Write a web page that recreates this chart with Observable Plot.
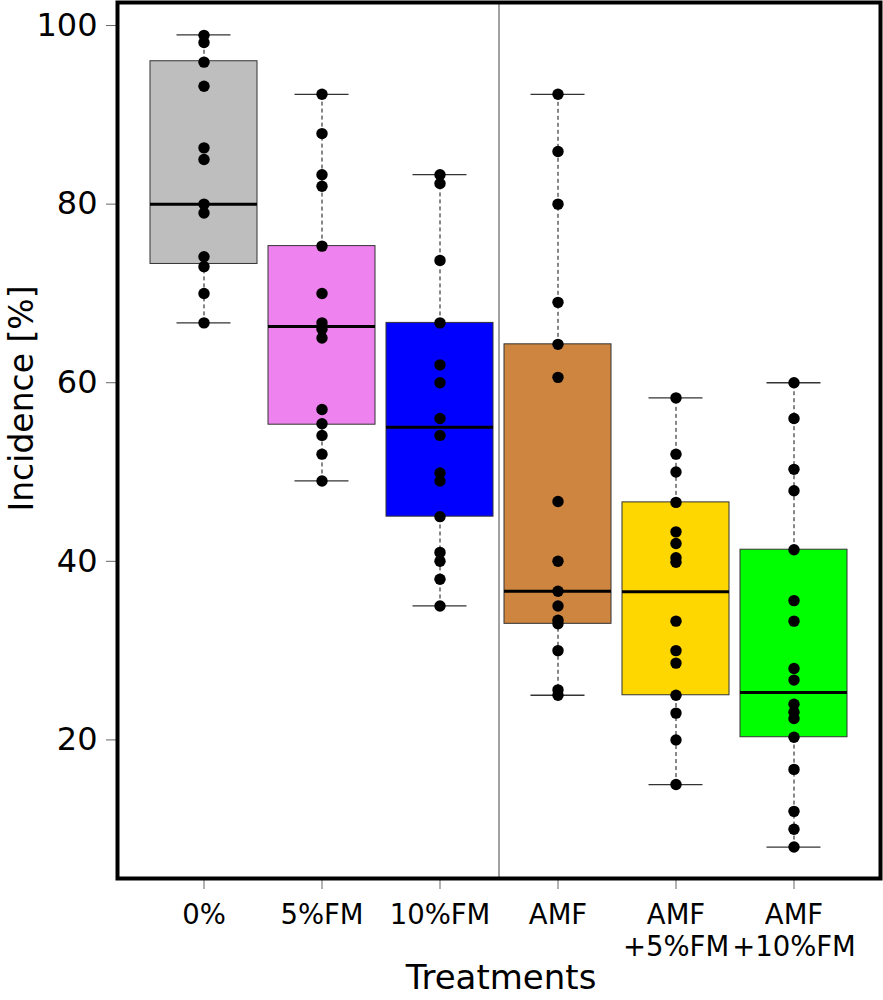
<!DOCTYPE html>
<html>
<head>
<meta charset="utf-8">
<script src="https://cdn.jsdelivr.net/npm/d3@7"></script>
<script src="https://cdn.jsdelivr.net/npm/@observablehq/plot@0.6"></script>
<style>
  html, body { margin: 0; padding: 0; background: white; }
</style>
</head>
<body>
<div id="chart"></div>
<script>
// Treatments and tick labels
const categories = ["0%", "5%FM", "10%FM", "AMF", "AMF+5%FM", "AMF+10%FM"];
const tickLabels = ["0%", "5%FM", "10%FM", "AMF", "AMF\n+5%FM", "AMF\n+10%FM"];
const boxColors = ["#BEBEBE", "#EE82EE", "#0000FF", "#CD853F", "#FFD700", "#00FF00"];

// Box statistics
const whiskerLow  = [66.7, 49.0, 35.0, 25.0, 15.0, 8.0];
const lowerHinge  = [73.3, 55.3, 45.0, 33.0, 25.0, 20.3];
const medians     = [80.0, 66.3, 55.0, 36.65, 36.6, 25.3];
const upperHinge  = [96.0, 75.3, 66.7, 64.3, 46.6, 41.3];
const whiskerHigh = [98.95, 92.3, 83.3, 92.3, 58.3, 60.0];

// Individual observations (incidence %)
const pts0     = [98.9, 98.1, 95.9, 93.2, 86.3, 85.0, 80.0, 79.0, 74.1, 73.0, 70.0, 66.7];
const pts5FM   = [92.3, 87.9, 83.3, 82.0, 75.3, 70.0, 66.7, 66.0, 65.0, 57.0, 55.4, 54.1, 52.0, 49.0];
const pts10FM  = [83.3, 82.3, 73.7, 66.7, 62.0, 60.0, 56.0, 54.1, 49.9, 49.0, 45.0, 41.0, 40.0, 38.0, 35.0];
const ptsAMF   = [92.3, 85.9, 80.0, 69.0, 64.3, 60.6, 46.7, 40.0, 36.65, 35.0, 33.4, 33.0, 30.0, 25.6, 25.0];
const ptsAMF5  = [58.3, 52.0, 50.0, 46.6, 43.3, 42.0, 40.4, 39.9, 33.3, 30.0, 28.6, 25.0, 23.0, 20.0, 15.0];
const ptsAMF10 = [60.0, 56.0, 50.3, 47.9, 41.3, 35.6, 33.3, 28.0, 26.7, 24.0, 23.1, 22.4, 20.3, 16.7, 12.0, 10.0, 8.0];

const yTicks = [20, 40, 60, 80, 100];

// Build tables for Plot
const stats = categories.map((c, i) => ({
  treatment: c,
  color: boxColors[i],
  lo: whiskerLow[i], q1: lowerHinge[i], med: medians[i], q3: upperHinge[i], hi: whiskerHigh[i]
}));
const allPts = [pts0, pts5FM, pts10FM, ptsAMF, ptsAMF5, ptsAMF10];
const points = allPts.flatMap((arr, i) => arr.map(v => ({treatment: categories[i], value: v})));

const chart = Plot.plot({
  width: 883,
  height: 1000,
  marginLeft: 117,
  marginRight: 3,
  marginTop: 2,
  marginBottom: 122,
  style: {fontFamily: "DejaVu Sans, Verdana, sans-serif", background: "white", color: "black"},
  x: {type: "band", domain: categories, paddingInner: 0.096, paddingOuter: 0.281, align: 0.5, label: null},
  y: {domain: [4.48, 102.58], label: null},
  color: {type: "identity"},
  marks: [
    // divider between the two groups of treatments
    Plot.ruleX(["AMF"], {x: d => d, dx: -59, stroke: "#444", strokeWidth: 1}),
    // whiskers
    Plot.ruleX(stats, {x: "treatment", y1: "q3", y2: "hi", stroke: "#111", strokeWidth: 1, strokeDasharray: "4,3"}),
    Plot.ruleX(stats, {x: "treatment", y1: "lo", y2: "q1", stroke: "#111", strokeWidth: 1, strokeDasharray: "4,3"}),
    // whisker caps
    Plot.tickY(stats, {x: "treatment", y: "hi", stroke: "#333", strokeWidth: 1.3, insetLeft: 26.5, insetRight: 26.5}),
    Plot.tickY(stats, {x: "treatment", y: "lo", stroke: "#333", strokeWidth: 1.3, insetLeft: 26.5, insetRight: 26.5}),
    // boxes
    Plot.barY(stats, {x: "treatment", y1: "q1", y2: "q3", fill: "color", stroke: "#333", strokeWidth: 1}),
    // medians
    Plot.tickY(stats, {x: "treatment", y: "med", stroke: "black", strokeWidth: 3}),
    // observations
    Plot.dot(points, {x: "treatment", y: "value", r: 5.7, fill: "black", stroke: "none"}),
    // axes
    Plot.axisY({ticks: yTicks, tickSize: 11, tickPadding: 9, fontSize: 32, stroke: "#666", label: null}),
    Plot.axisX({tickSize: 11, tickPadding: 12, fontSize: 27.5, stroke: "#666", label: null, lineHeight: 1.15,
      tickFormat: d => tickLabels[categories.indexOf(d)]}),
    // axis titles
    Plot.text(["Incidence [%]"], {frameAnchor: "left", textAnchor: "middle", dx: -95, dy: -42, rotate: -90, fontSize: 33, fill: "black"}),
    Plot.text(["Treatments"], {frameAnchor: "bottom", textAnchor: "middle", dy: 86, dx: 2, lineAnchor: "top", fontSize: 34, fill: "black"}),
    // frame
    Plot.frame({stroke: "black", strokeWidth: 4})
  ]
});
document.getElementById("chart").appendChild(chart);
</script>
</body>
</html>
